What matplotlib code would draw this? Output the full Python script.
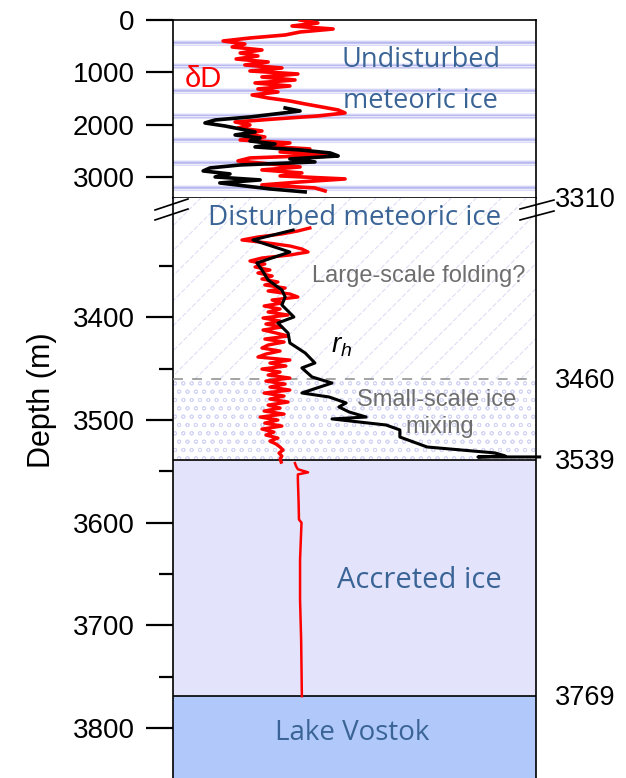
import numpy as np
import matplotlib
matplotlib.use("Agg")
import matplotlib.pyplot as plt
from matplotlib.lines import Line2D

plt.rcParams['font.family'] = ['Liberation Sans', 'DejaVu Sans']
plt.rcParams['mathtext.fontset'] = 'custom'
plt.rcParams['mathtext.it'] = 'Liberation Sans:italic'
plt.rcParams['mathtext.rm'] = 'Liberation Sans'
plt.rcParams['hatch.linewidth'] = 0.6

# profiles are drawn on a relative horizontal scale (0-100), depth in m

# upper core, 0-3310 m
dD_top = [35.0, 39.9, 32.8, 44.1, 35.0, 30.9, 21.2, 13.8, 19.8, 16.3,
          24.5, 18.5, 23.4, 17.4, 26.2, 19.8, 30.0, 21.2, 34.4, 24.5,
          33.6, 22.6, 32.2, 23.4, 28.9, 21.8, 26.2, 32.2, 36.4, 41.0,
          45.5, 47.4, 39.9, 28.1, 17.1, 21.2, 17.9, 24.5, 19.8, 25.3,
          18.5, 32.2, 24.5, 37.7, 29.5, 43.8, 21.2, 17.9, 26.7, 35.0,
          24.5, 35.5, 29.5, 47.4, 35.0, 24.5, 39.1, 41.9]
dD_top_depth = np.linspace(0, 3266, len(dD_top))

rh_top = [30.9, 35.0, 28.1, 21.2, 11.6, 8.8, 14.3, 18.5, 22.6, 17.1,
          24.0, 21.2, 28.1, 22.6, 35.0, 43.3, 45.5, 32.2, 39.1, 18.5,
          10.2, 8.3, 15.7, 11.6, 24.0, 12.9, 19.8, 26.7, 36.4]
rh_top_depth = np.linspace(1681, 3285, len(rh_top))

# disturbed meteoric ice, 3310-3539 m
dD_mid = [37.7, 34.4, 30.0, 23.4, 19.0, 26.2, 32.2, 35.5, 37.2, 32.2,
          24.5, 21.2, 25.3, 22.6, 26.7, 23.4, 27.3, 24.5, 28.9, 25.3,
          30.9, 26.2, 32.2, 34.4, 27.3, 30.0, 25.1, 29.5, 26.2, 31.7,
          24.8, 29.5, 25.6, 30.0, 24.8, 28.4, 31.7, 25.3, 30.6, 26.2,
          24.5, 29.5, 25.6, 23.4, 32.2, 26.7, 31.1, 24.5, 29.5, 26.2,
          32.2, 25.6, 30.9, 26.7, 32.2, 25.1, 30.6, 26.7, 31.7, 26.2,
          29.5, 25.1, 30.6, 24.0, 28.9, 25.3, 30.0, 24.5, 27.8, 25.6,
          28.9, 26.7, 28.4, 29.5, 30.3, 29.2, 30.0, 29.5, 29.8]
dD_mid_depth = np.linspace(3313, 3541, len(dD_mid))

# accreted ice, 3539-3769 m
dD_acc_depth = [3542, 3545, 3548, 3551, 3553, 3558, 3580, 3597, 3600,
                3636, 3675, 3714, 3769]
dD_acc = [33.6, 33.9, 34.4, 37.2, 34.4, 34.4, 34.6, 34.7, 35.4,
          35.0, 35.0, 35.3, 35.5]

rh_mid_depth = [3315, 3324.7, 3336.4, 3347.1, 3353.9, 3363.6, 3373.4,
                3380.2, 3388, 3399.7, 3405.5, 3415.3, 3425.0, 3434.7,
                3444.5, 3449.3, 3458.1, 3464.0, 3473.7, 3477.6, 3483.4,
                3487.3, 3492.2, 3497.1, 3499.0, 3504.9, 3509.7, 3516.6,
                3526.3, 3529.2, 3532.1, 3535.0, 3536.0, 3536.0]
rh_mid = [33.1, 22.0, 32.2, 23.1, 24.5, 26.2, 30.0, 30.9, 30.0, 33.3,
          28.9, 31.7, 32.2, 36.4, 39.1, 35.5, 38.3, 43.8, 35.5, 43.0,
          47.7, 45.7, 48.5, 53.2, 43.8, 58.7, 62.5, 62.5, 70.0, 79.3,
          88.7, 91.5, 84.0, 101.0]

layer_bands = [439, 879, 1356, 1834, 2292, 2731, 3209]
z_disturbed = 3310
z_mixing = 3460
z_accreted = 3539
z_lake = 3769

label_blue = '#3a6496'
grey_txt = '#6e6e6e'
W, H = 626, 778


def box(x0, y0, x1, y1):
    return [x0 / W, 1 - y1 / H, (x1 - x0) / W, (y1 - y0) / H]


fig = plt.figure(figsize=(W / 100, H / 100), dpi=100)
ax_top = fig.add_axes(box(173, 20, 536, 198))
ax_bot = fig.add_axes(box(173, 198, 536, 778))

ax_top.set_xlim(0, 100)
ax_top.set_ylim(3401, 0)
ax_bot.set_xlim(0, 100)
ax_bot.set_ylim(3848.7, 3283.8)

# annual-layer style stripes in the undisturbed part
for d in layer_bands:
    ax_top.axhspan(d - 60, d + 60, color='#f0f0fd', lw=0, zorder=0)
    for off, c in ((-40, '#d6d6f6'), (-15, '#b8b8f0'), (10, '#c4c4f2'), (35, '#dcdcf7')):
        ax_top.axhline(d + off, color=c, lw=0.8, zorder=0.5)

# folding zone: sparse dashed diagonals
dx = (z_mixing - 3283.8) * 1.0267 / 3.63
for x0 in np.arange(-56, 100, 6.9):
    ax_bot.plot([x0, x0 + dx], [z_mixing, 3283.8], color='#dadaf5', lw=0.7,
                ls=(0, (5, 2)), zorder=0.5)

ax_bot.axhspan(z_mixing, z_accreted, facecolor='white', edgecolor='#d4d4f4',
               hatch='oo', lw=0, zorder=0)
ax_bot.axhspan(z_accreted, z_lake, color='#e3e3fb', lw=0, zorder=0)
ax_bot.axhspan(z_lake, 3860, color='#b1c9fa', lw=0, zorder=0)

ax_bot.axhline(z_mixing, color='#8a8a8a', lw=1.1, ls=(0, (6.5, 6)), zorder=3)
ax_bot.axhline(z_accreted, color='black', lw=1.2, zorder=3)
ax_bot.axhline(z_lake, color='black', lw=1.2, zorder=3)

# profiles
ax_top.plot(dD_top, dD_top_depth, color='#ff0000', lw=2.6, zorder=4)
ax_top.plot(rh_top, rh_top_depth, color='black', lw=2.6, zorder=5)
ax_bot.plot(dD_mid, dD_mid_depth, color='#ff0000', lw=2.4, zorder=4)
ax_bot.plot(dD_acc, dD_acc_depth, color='#ff0000', lw=1.8, zorder=4)
ax_bot.plot(rh_mid, rh_mid_depth, color='black', lw=2.2, zorder=5, clip_on=False)

# axes styling
for ax in (ax_top, ax_bot):
    ax.set_xticks([])
    for s in ax.spines.values():
        s.set_linewidth(1.2)
    ax.tick_params(axis='y', which='major', length=19.5, width=1.6, pad=8,
                   labelsize=20)
ax_bot.spines['top'].set_visible(False)
ax_bot.spines['bottom'].set_visible(False)
ax_top.set_yticks([0, 1000, 2000, 3000])
ax_bot.set_yticks([3400, 3500, 3600, 3700, 3800])
ax_bot.set_yticks([3350, 3450, 3550, 3650, 3750], minor=True)
ax_bot.tick_params(axis='y', which='minor', length=10, width=1.6)

fig.text(42 / W, 1 - 400 / H, 'Depth (m)', rotation=90, fontsize=22,
         ha='center', va='center')

# zone labels
lab = dict(family=['Open Sans', 'DejaVu Sans'], color=label_blue)
ax_top.text(68.3, 898, 'Undisturbed', ha='center', va='baseline', fontsize=19.5, **lab)
ax_top.text(68.3, 1681, 'meteoric ice', ha='center', va='baseline', fontsize=19.5, **lab)
ax_top.text(3.3, 1280, 'δD', ha='left', va='baseline', fontsize=21, color='#ff0000')
ax_bot.text(50.1, 3310, 'Disturbed meteoric ice', ha='center', va='baseline',
            fontsize=20, zorder=6, **lab)
ax_bot.text(67.6, 3365.6, 'Large-scale folding?', ha='center', va='baseline',
            fontsize=17, color=grey_txt)
ax_bot.text(43.5, 3434.7, r'$r_h$', ha='left', va='baseline', fontsize=20)
ax_bot.text(72.5, 3486.4, 'Small-scale ice', ha='center', va='baseline',
            fontsize=17, color=grey_txt)
ax_bot.text(73.5, 3512.7, 'mixing', ha='center', va='baseline',
            fontsize=17, color=grey_txt)
ax_bot.text(67.9, 3663.6, 'Accreted ice', ha='center', va='baseline', fontsize=21, **lab)
ax_bot.text(49.3, 3811.7, 'Lake Vostok', ha='center', va='baseline', fontsize=20, **lab)

# boundary depths on the right
xr = (555 - 173) / 363
ax_top.text(xr, -0.01, str(z_disturbed), transform=ax_top.transAxes, ha='left',
            va='center', fontsize=19.5)
for z in (z_mixing, z_accreted, z_lake):
    ax_bot.text(xr, z + 2, str(z), transform=ax_bot.get_yaxis_transform(),
                ha='left', va='center', fontsize=19.5)


# axis-break marks
def brk(x0, y0, x1, y1):
    fig.add_artist(Line2D([x0 / W, x1 / W], [1 - y0 / H, 1 - y1 / H],
                          transform=fig.transFigure, color='black', lw=1.2))


brk(155, 210, 188, 199)
brk(155, 220, 188, 209)
brk(520, 209, 554, 200)
brk(520, 220, 554, 211)

fig.savefig('out.png', dpi=100)
